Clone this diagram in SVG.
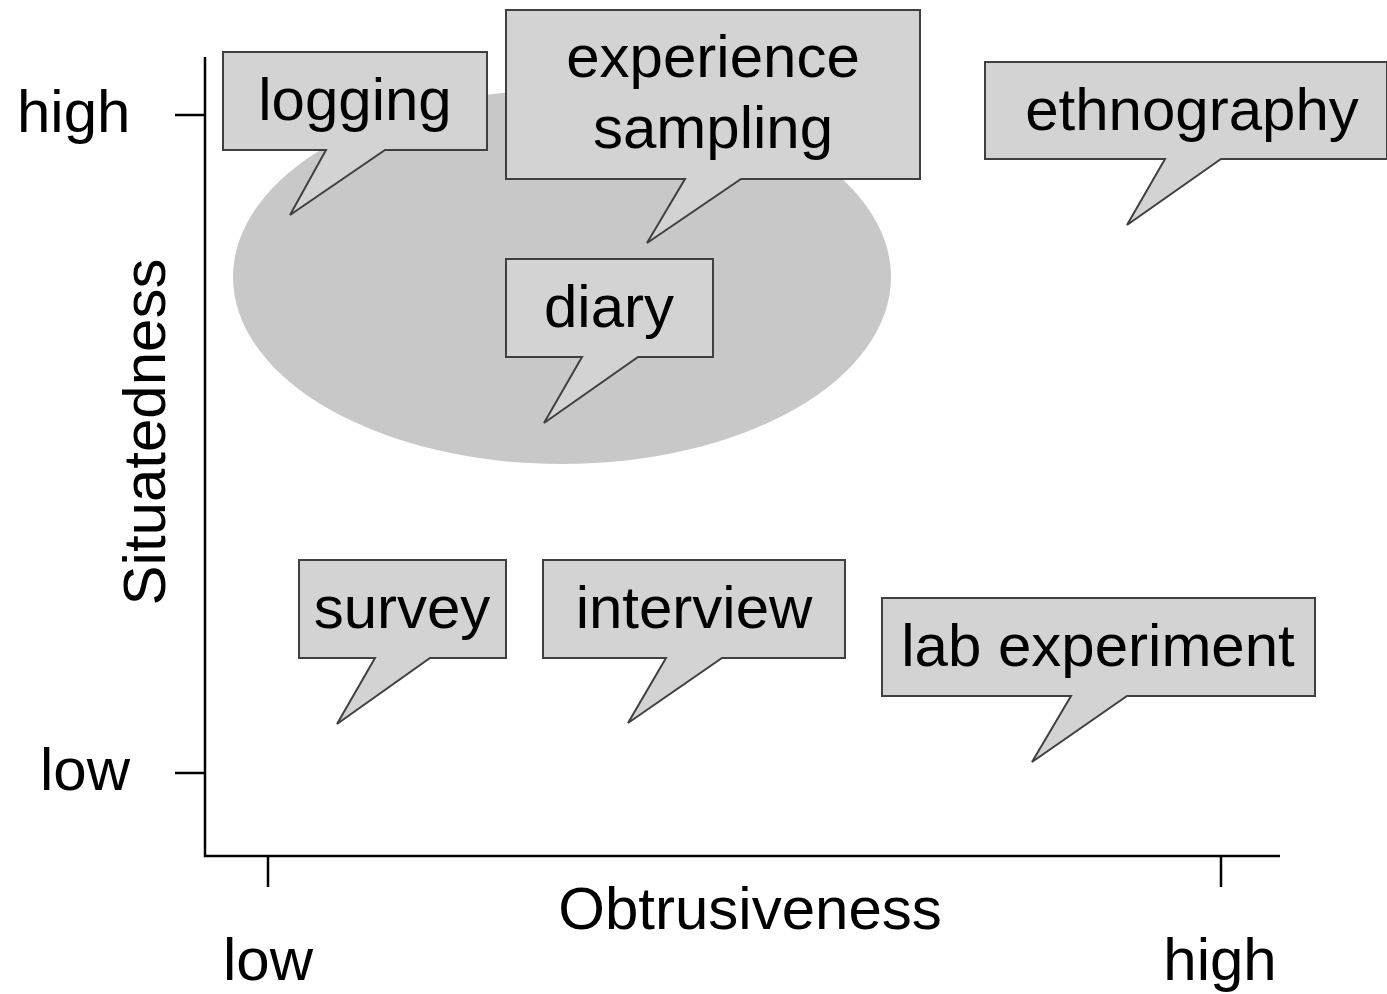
<svg xmlns="http://www.w3.org/2000/svg" width="1387" height="994" viewBox="0 0 1387 994">
<style>
text{font-family:"Liberation Sans",Arial,sans-serif;font-size:60px;fill:#000}
.c{text-anchor:middle}
.callout path{fill:#d3d3d3;stroke:#404040;stroke-width:2;stroke-linejoin:miter}
.axis{stroke:#000;stroke-width:2.5;fill:none}
</style>
<rect width="1387" height="994" fill="#fff"/>
<ellipse id="cluster" cx="562" cy="277" rx="329" ry="187" fill="#c8c8c8"/>
<g id="axes">
<path class="axis" d="M205,57 V856 H1280"/>
<path class="axis" d="M175,115 H205 M175,773 H205 M268,856 V887 M1221,856 V887"/>
<text x="17" y="132">high</text>
<text x="40" y="790">low</text>
<text class="c" transform="translate(165,432) rotate(-90)">Situatedness</text>
<text class="c" x="750" y="929">Obtrusiveness</text>
<text class="c" x="268" y="980">low</text>
<text class="c" x="1220" y="980">high</text>
</g>
<g id="connectors"></g>
<g id="logging" class="callout">
<path d="M223,52 H487 V150 H385 L290,215 L326,150 H223 Z"/>
<text class="c" x="355" y="120">logging</text>
</g>
<g id="experience-sampling" class="callout">
<path d="M506,10 H920 V179 H741 L647,243 L685,179 H506 Z"/>
<text class="c" x="713" y="77">experience</text>
<text class="c" x="713" y="148">sampling</text>
</g>
<g id="ethnography" class="callout">
<path d="M985,62 H1387 V159 H1221 L1127,225 L1165,159 H985 Z"/>
<text class="c" x="1192" y="130">ethnography</text>
</g>
<g id="diary" class="callout">
<path d="M506,259 H713 V357 H638 L544,423 L582,357 H506 Z"/>
<text class="c" x="609" y="327">diary</text>
</g>
<g id="survey" class="callout">
<path d="M299,560 H506 V658 H430 L337,724 L375,658 H299 Z"/>
<text class="c" x="402" y="628">survey</text>
</g>
<g id="interview" class="callout">
<path d="M543,560 H845 V658 H722 L628,723 L666,658 H543 Z"/>
<text class="c" x="694" y="628">interview</text>
</g>
<g id="lab-experiment" class="callout">
<path d="M882,598 H1315 V696 H1127 L1032,762 L1071,696 H882 Z"/>
<text class="c" x="1098" y="666">lab experiment</text>
</g>
</svg>
